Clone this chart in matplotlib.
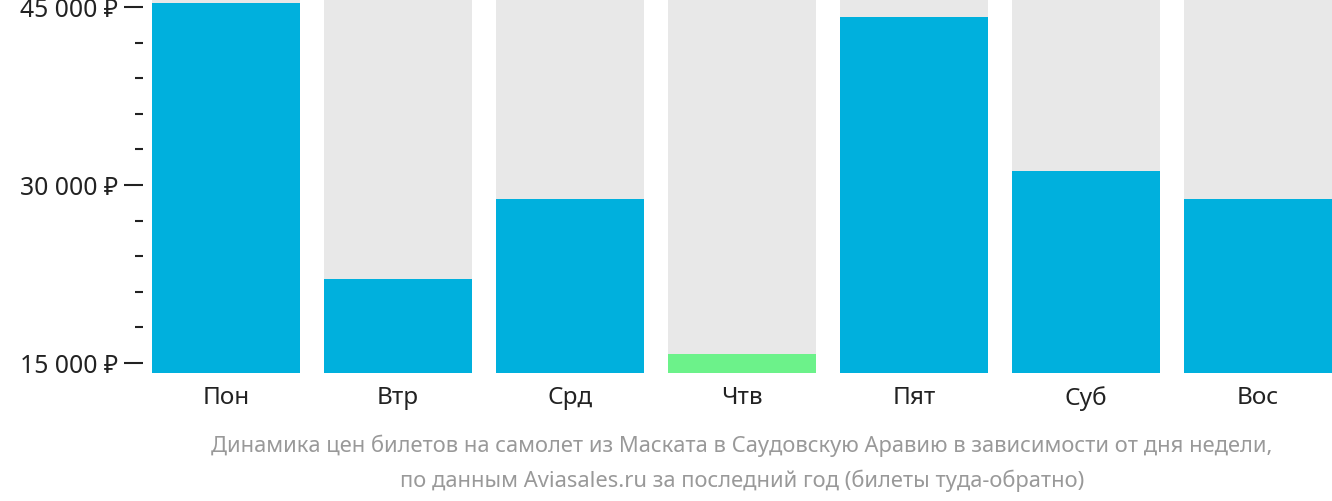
import numpy as np
import matplotlib.pyplot as plt
from matplotlib.ticker import FixedLocator

plt.rcParams['font.family'] = ['Noto Sans', 'DejaVu Sans']

days = ['Пон', 'Втр', 'Срд', 'Чтв', 'Пят', 'Суб', 'Вос']
prices = [45340, 22080, 28820, 15760, 44160, 31180, 28820]
cheapest = 3  # index of the cheapest day
y_ticks = [15000, 30000, 45000]
y_labels = ['15 000 ₽', '30 000 ₽', '45 000 ₽']
caption = ('Динамика цен билетов на самолет из Маската в Саудовскую Аравию в зависимости от дня недели,\n'
           'по данным Aviasales.ru за последний год (билеты туда-обратно)')

ymin, ymax = 14157, 45674

fig = plt.figure(figsize=(13.32, 5.02), dpi=100)
ax = fig.add_axes([143/1332, 128/502, 1189/1332, 374/502])

x = np.arange(len(days))
colors = ['#00b0dd'] * len(days)
colors[cheapest] = '#6cf28a'
ax.bar(x, [ymax - ymin] * len(days), bottom=ymin, width=0.86, color='#e8e8e8')
ax.bar(x, np.array(prices) - ymin, bottom=ymin, width=0.86, color=colors)

ax.set_xlim(-0.482, 6.43)
ax.set_ylim(ymin, ymax)
for s in ax.spines.values():
    s.set_visible(False)

ax.set_xticks(x)
ax.set_xticklabels(days, fontsize=17.5, color='#222222')
ax.tick_params(axis='x', length=0, pad=9)

ax.set_yticks(y_ticks)
ax.set_yticklabels(y_labels, fontsize=17.8, color='#222222')
ax.yaxis.set_minor_locator(FixedLocator([v for v in range(18000, 45000, 3000) if v not in y_ticks]))
ax.tick_params(axis='y', which='major', length=14, width=1.5, color='#222222', pad=4)
ax.tick_params(axis='y', which='minor', length=6, width=1.5, color='#222222')

fig.text(0.5 + 76/1332, 39/502, caption, ha='center', va='center', fontsize=15.8,
         color='#999999', linespacing=1.72)

fig.savefig('out.png', dpi=100)
